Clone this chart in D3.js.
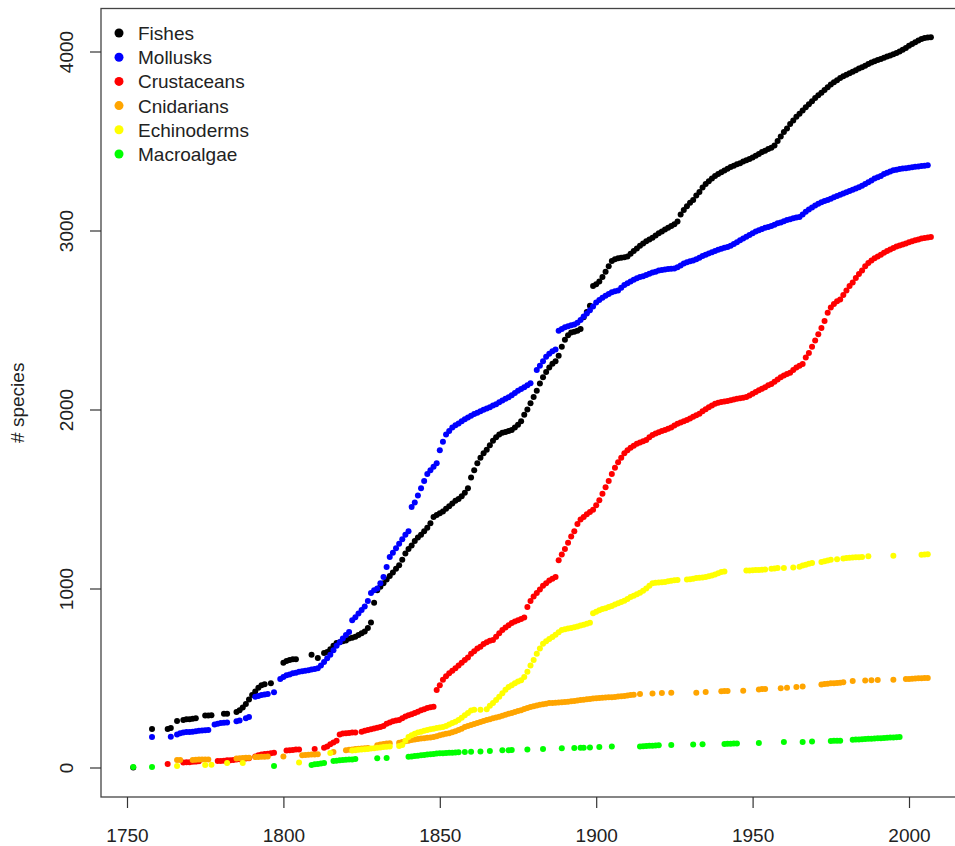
<!DOCTYPE html>
<html lang="en">
<head>
<meta charset="UTF-8"/>
<title>Cumulative species</title>
<script src="https://d3js.org/d3.v7.min.js"></script>
<style>
    body { margin: 0; background: #fff; }
    text { font-family: "Liberation Sans", Arial, sans-serif; fill: #222; }
    .axis text { font-size: 19px; }
    .axis line { stroke: #333; stroke-width: 1.2px; }
</style>
</head>
<body>
<div id="chart"></div>
<script>
// each run: [firstYear, value, value, ...] for consecutive years
var fishes = [
    [1752, 0], [1758, 215], [1763, 215, 220], [1766, 260],
    [1768, 265, 270, 270, 272, 275], [1775, 290, 290, 292], [1781, 300, 300],
    [1785, 310, 320, 335, 355, 380, 405, 425, 445, 460, 465], [1796, 470],
    [1800, 585, 595, 600, 605, 605], [1809, 630], [1811, 612],
    [1813, 640, 645, 660, 680, 695, 700, 705, 710, 720, 725, 730, 740, 750, 760, 780, 810,
        920, 990, 1010, 1030, 1050, 1070, 1090, 1110, 1130, 1160, 1195, 1220, 1240, 1265, 1285, 1300, 1320, 1340, 1365, 1400, 1410,
        1420, 1430, 1445, 1460, 1475, 1490, 1500, 1515, 1535, 1560,
        1620, 1660, 1700, 1730, 1755, 1775, 1800, 1825, 1845, 1860,
        1870, 1875, 1880, 1885, 1900, 1915, 1935, 1970, 2000, 2035,
        2070, 2105, 2145, 2180, 2210, 2235, 2255, 2270, 2300, 2350,
        2390, 2415, 2430, 2435, 2440, 2450, 2515, 2545, 2580, 2690,
        2700, 2715, 2740, 2770, 2800, 2830, 2840, 2845, 2848, 2850,
        2855, 2870, 2885, 2900, 2915, 2927, 2940, 2950, 2960, 2972,
        2984, 2995, 3005, 3015, 3025, 3035, 3050, 3090, 3115, 3135,
        3155, 3170, 3195, 3215, 3240, 3260, 3275, 3290, 3305, 3315,
        3325, 3335, 3345, 3355, 3362, 3370, 3376, 3385, 3393, 3400,
        3408, 3418, 3428, 3438, 3446, 3455, 3462, 3475, 3500, 3525,
        3550, 3570, 3595, 3615, 3635, 3652, 3670, 3688, 3705, 3722,
        3740, 3755, 3770, 3785, 3800, 3815, 3828, 3840, 3852, 3862,
        3870, 3878, 3887, 3895, 3905, 3912, 3920, 3930, 3938, 3945,
        3952, 3958, 3965, 3972, 3978, 3985, 3992, 4000, 4010, 4020,
        4032, 4042, 4052, 4062, 4070, 4076, 4078, 4080]
];

var mollusks = [
    [1758, 170], [1764, 172],
    [1766, 185, 192, 195, 198, 198, 200, 202, 205, 207, 208, 210],
    [1778, 240, 245, 248, 250, 252], [1785, 258, 262], [1788, 275, 282],
    [1791, 395, 400, 405, 408, 410], [1797, 420],
    [1799, 495, 505, 515, 520, 527, 530, 535, 538, 540, 543, 547, 550, 555,
        570, 590, 610, 630, 655, 680, 700, 720, 740, 757,
        823, 840, 860, 880, 900, 930, 975, 990,
        1000, 1030, 1064, 1120, 1176, 1200, 1225, 1250, 1275, 1300,
        1320, 1455, 1480, 1520, 1560, 1600, 1640, 1660, 1680, 1700,
        1773, 1820, 1860, 1880, 1900, 1912, 1922, 1935, 1945, 1955,
        1965, 1975, 1982, 1990, 1998, 2006, 2013, 2022, 2030, 2040,
        2050, 2060, 2069, 2080, 2092, 2105, 2115, 2125, 2135, 2146],
    [1881, 2220, 2245, 2270, 2295, 2312, 2325, 2335, 2440, 2450,
        2460, 2465, 2470, 2475, 2485, 2500, 2520, 2536, 2555, 2575,
        2598, 2612, 2625, 2635, 2645, 2655, 2660, 2665, 2680, 2695,
        2705, 2715, 2725, 2733, 2740, 2745, 2752, 2758, 2765, 2770,
        2777, 2780, 2782, 2785, 2787, 2788, 2795, 2805, 2815, 2822,
        2828, 2833, 2840, 2848, 2858, 2865, 2872, 2878, 2885, 2892,
        2898, 2903, 2908, 2915, 2925, 2935, 2945, 2955, 2965, 2975,
        2985, 2995, 3001, 3008, 3015, 3020, 3025, 3032, 3040, 3045,
        3052, 3058, 3063, 3068, 3072, 3075, 3090, 3105, 3118, 3129,
        3140, 3150, 3158, 3165, 3170, 3178, 3186, 3193, 3200, 3207,
        3214, 3220, 3227, 3234, 3241, 3250, 3260, 3270, 3280, 3290,
        3297, 3305, 3315, 3322, 3330, 3336, 3340, 3344, 3346, 3348,
        3350, 3353, 3356, 3358, 3360, 3362, 3364]
];

var crustaceans = [
    [1763, 20], [1768, 28, 30, 30, 32, 33, 35],
    [1779, 36, 37, 38, 40, 40, 42, 44, 46, 48, 50, 52],
    [1791, 62, 68, 72, 75, 77, 79, 82], [1801, 95, 97, 98, 100, 100], [1810, 103],
    [1813, 110, 118, 130, 140, 150, 185, 190, 192, 193, 195, 196],
    [1825, 200, 205, 210, 214, 218,
        222, 226, 232, 245, 252, 258, 262, 266, 275, 285,
        292, 298, 304, 312, 320, 326, 332, 336, 340, 433,
        460, 490, 510, 527, 540, 555, 570, 585, 600, 615,
        635, 650, 665, 675, 690, 700, 708, 712, 730, 750,
        768, 782, 795, 807, 815, 822, 830, 838, 896, 930,
        955, 975, 995, 1015, 1030, 1045, 1055, 1064, 1158, 1190,
        1220, 1255, 1290, 1320, 1360, 1385, 1400, 1415, 1428, 1440,
        1465, 1493, 1530, 1566, 1600, 1640, 1675, 1705, 1730, 1755,
        1772, 1786, 1798, 1808, 1815, 1822, 1829, 1845, 1858, 1866,
        1873, 1880, 1885, 1892, 1900, 1910, 1920, 1928, 1935, 1942,
        1950, 1960, 1968, 1976, 1990, 2002, 2012, 2022, 2032, 2038,
        2042, 2045, 2048, 2052, 2056, 2060, 2063, 2066, 2070, 2078,
        2088, 2098, 2107, 2116, 2125, 2135, 2143, 2155, 2168, 2180,
        2190, 2198, 2205, 2220, 2235, 2245, 2254, 2290, 2315, 2350,
        2385, 2420, 2455, 2495, 2540, 2570, 2590, 2605, 2615, 2640,
        2665, 2690, 2710, 2735, 2757, 2777, 2800, 2818, 2833, 2845,
        2855, 2865, 2876, 2886, 2894, 2902, 2910, 2916, 2922, 2927,
        2934, 2940, 2945, 2950, 2955, 2958, 2961, 2963]
];

var cnidarians = [
    [1766, 42, 42], [1771, 42, 43, 44, 44, 45, 45], [1785, 50, 52, 53, 54, 55],
    [1791, 58, 59, 60, 60, 61], [1800, 62], [1806, 68, 70, 71, 72, 73, 74], [1816, 87],
    [1820, 97, 99, 101, 103, 105, 106, 108, 109], [1830, 125, 128, 131, 134, 136],
    [1837, 138, 142, 146,
        150, 153, 156, 159, 162, 164, 166, 168, 170, 175,
        180, 184, 188, 192, 197, 203, 210, 217, 226, 232,
        238, 243, 249, 254, 260, 265, 270, 275, 279, 283,
        289, 294, 300, 305, 310, 315, 320, 327, 333, 338,
        342, 346, 350, 353, 356, 360, 361, 362, 363, 365,
        366, 368, 370, 372, 374, 377, 379, 381, 383, 385,
        387, 388, 390, 391, 392, 393, 394, 396, 398, 400,
        402, 405, 407],
    [1914, 411], [1918, 414], [1921, 416], [1924, 417], [1932, 418], [1935, 422],
    [1940, 426, 427, 428], [1947, 429], [1952, 436, 438, 439], [1959, 443], [1961, 445],
    [1964, 450], [1966, 452], [1972, 464, 466, 468, 470, 471, 472, 474, 476],
    [1982, 483], [1986, 486], [1988, 488], [1990, 489], [1995, 490],
    [1999, 494, 495, 496, 497, 498, 499, 500, 500]
];

var echinoderms = [
    [1766, 8], [1775, 14], [1777, 15], [1782, 25], [1787, 25], [1805, 28], [1815, 81],
    [1822, 95, 97, 99, 100, 102, 104, 106, 108, 110, 112, 114, 116, 118],
    [1837, 120, 126, 150,
        170, 180, 188, 195, 200, 205, 209, 213, 217, 221,
        224, 226, 232, 240, 248, 256, 265, 278, 292, 305,
        318, 322],
    [1863, 323],
    [1865, 325, 345, 360, 377, 395,
        415, 435, 450, 460, 470, 480, 488, 505, 535, 570,
        600, 635, 665, 691, 705, 718, 729, 742, 755, 768,
        772, 776, 780, 784, 788, 793, 798, 803, 808, 862,
        870, 878, 885, 890, 896, 902, 910, 918, 925, 932,
        942, 952, 960, 968, 976, 988, 1000, 1015, 1030, 1032,
        1034, 1035, 1036, 1040, 1043, 1046, 1048],
    [1929, 1050, 1052, 1055, 1058, 1060, 1062, 1064, 1068, 1072, 1078, 1085, 1092, 1095],
    [1948, 1100, 1101, 1102, 1103, 1104, 1105, 1106], [1956, 1110, 1112, 1114],
    [1960, 1115], [1963, 1117], [1965, 1122, 1128, 1133, 1138, 1142],
    [1972, 1148, 1152, 1156, 1160], [1977, 1164],
    [1979, 1168, 1170, 1172, 1173, 1174, 1175, 1176], [1987, 1180], [1995, 1183],
    [2004, 1188, 1190, 1192]
];

var macroalgae = [
    [1752, 3], [1758, 3], [1797, 8], [1809, 14, 18, 20, 22, 25],
    [1816, 36, 38, 40, 42, 43, 44, 45, 47], [1830, 52], [1833, 53],
    [1840, 60, 62, 64, 66, 68, 70, 72, 74, 76, 78, 79, 80, 81, 82, 83, 84, 85],
    [1858, 87], [1860, 88], [1863, 90], [1866, 92], [1870, 96], [1872, 97, 98],
    [1878, 100], [1883, 103], [1889, 107], [1893, 109], [1895, 110, 111], [1898, 112],
    [1901, 115], [1905, 117], [1914, 118, 119, 120, 121, 122, 123, 124], [1924, 126],
    [1931, 128], [1934, 130], [1941, 131, 132, 133, 134, 134], [1952, 137], [1960, 142],
    [1966, 143], [1969, 145], [1975, 148, 149, 150, 150],
    [1982, 155, 156, 157, 158, 159, 160, 161, 162, 163, 164, 165, 166, 167, 168, 169, 170]
];

var groups = ["Fishes", "Mollusks", "Crustaceans", "Cnidarians", "Echinoderms", "Macroalgae"];
var colors = ["#000000", "#0000ff", "#ff0000", "#ffa500", "#ffff00", "#00ff00"];
var allSeries = [fishes, mollusks, crustaceans, cnidarians, echinoderms, macroalgae];
var xTicks = [1750, 1800, 1850, 1900, 1950, 2000];
var yTicks = [0, 1000, 2000, 3000, 4000];

var width = 955, height = 846;
var box = {left: 101, top: 8.5, bottom: 797};

var svg = d3.select("#chart")
    .append("svg")
    .attr("width", width)
    .attr("height", height);

var x = d3.scaleLinear().domain([1750, 2000]).range([127, 909]);
var y = d3.scaleLinear().domain([0, 4000]).range([767.5, 51.5]);

// turn runs into points
function toPoints(runs) {
    var pts = [];
    runs.forEach(function (run) {
        for (var i = 1; i < run.length; i++) {
            pts.push({year: run[0] + i - 1, value: run[i]});
        }
    });
    return pts;
}

// points
allSeries.forEach(function (runs, i) {
    svg.append("g")
        .selectAll("circle")
        .data(toPoints(runs))
        .enter()
        .append("circle")
        .attr("cx", function (d) { return x(d.year); })
        .attr("cy", function (d) { return y(d.value); })
        .attr("r", 3)
        .attr("fill", colors[i]);
});

// plot box
svg.append("rect")
    .attr("x", box.left)
    .attr("y", box.top)
    .attr("width", 900)
    .attr("height", box.bottom - box.top)
    .attr("fill", "none")
    .attr("stroke", "#444")
    .attr("stroke-width", 1.3);

// X axis
var xAxis = svg.append("g")
    .attr("class", "axis")
    .attr("transform", "translate(0," + box.bottom + ")")
    .call(d3.axisBottom(x).tickValues(xTicks).tickFormat(d3.format("d")).tickSize(11).tickPadding(21));
xAxis.select(".domain").remove();

// Y axis, labels turned like base R
var yAxis = svg.append("g")
    .attr("class", "axis")
    .attr("transform", "translate(" + box.left + ",0)")
    .call(d3.axisLeft(y).tickValues(yTicks).tickFormat(d3.format("d")).tickSize(11));
yAxis.select(".domain").remove();
yAxis.selectAll("text")
    .attr("x", 0)
    .attr("dy", 0)
    .attr("text-anchor", "middle")
    .attr("transform", "translate(-28,0) rotate(-90)");

svg.append("text")
    .attr("transform", "translate(24," + (box.top + box.bottom) / 2 + ") rotate(-90)")
    .attr("text-anchor", "middle")
    .style("font-size", "19px")
    .text("# species");

// legend
var legend = svg.append("g");
groups.forEach(function (name, i) {
    var ly = 33 + i * 24.2;
    legend.append("circle")
        .attr("cx", 119)
        .attr("cy", ly)
        .attr("r", 4.5)
        .attr("fill", colors[i]);
    legend.append("text")
        .attr("x", 138)
        .attr("y", ly + 7)
        .style("font-size", "19px")
        .text(name);
});
</script>
</body>
</html>
